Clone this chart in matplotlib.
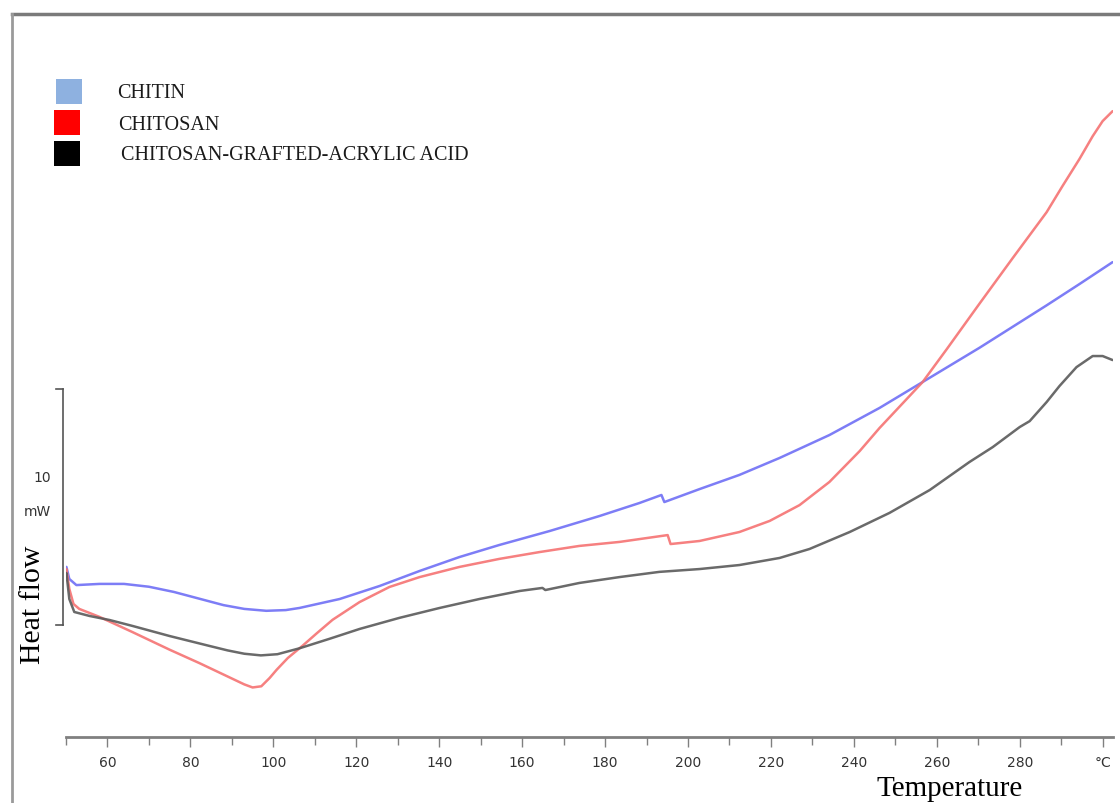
import numpy as np
import matplotlib.pyplot as plt
from matplotlib.lines import Line2D
from matplotlib.patches import Rectangle
from matplotlib import font_manager

# DSC traces: temperature (deg C) and heat flow (mW, arbitrary offset)
chitin_T = [49.9, 50.1, 50.8, 52.5, 58.1, 64.0, 70.0, 76.0, 82.0, 88.0,
            93.0, 98.3, 103.0, 106.3, 116.0, 125.6, 135.3, 144.9, 154.5, 166.6,
            178.7, 188.3, 193.6, 194.3, 202.8, 212.4, 222.1, 234.1, 246.2, 256.6,
            270.3, 286.5, 294.4, 302.4]
chitin_hf = [2.03, 2.46, 1.95, 1.69, 1.74, 1.74, 1.62, 1.40, 1.12, 0.84,
             0.68, 0.60, 0.63, 0.72, 1.10, 1.65, 2.29, 2.88, 3.39, 3.98,
             4.62, 5.17, 5.51, 5.21, 5.76, 6.36, 7.08, 8.05, 9.20, 10.30,
             11.75, 13.55, 14.45, 15.38]

chitosan_T = [49.9, 50.1, 50.8, 51.8, 53.2, 58.1, 66.0, 75.0, 82.2, 89.4,
              93.0, 95.0, 97.1, 99.1, 100.8, 103.5, 107.0, 110.5, 114.3, 120.8,
              128.0, 135.3, 144.9, 154.5, 164.2, 173.8, 183.5, 195.1, 195.8, 202.8,
              212.4, 219.7, 226.9, 234.1, 241.4, 246.2, 251.8, 256.6, 262.4, 270.3,
              278.3, 286.5, 290.3, 294.4, 297.6, 300.0, 302.4]
chitosan_hf = [2.08, 2.37, 1.53, 0.89, 0.68, 0.34, -0.30, -1.05, -1.62, -2.22,
               -2.52, -2.65, -2.60, -2.25, -1.90, -1.40, -0.89, -0.35, 0.22, 0.97,
               1.61, 2.03, 2.46, 2.80, 3.09, 3.35, 3.52, 3.81, 3.43, 3.56,
               3.94, 4.41, 5.08, 6.06, 7.37, 8.35, 9.40, 10.30, 11.69, 13.62,
               15.55, 17.50, 18.60, 19.75, 20.72, 21.36, 21.78]

grafted_T = [49.9, 50.1, 50.8, 52.0, 55.7, 60.5, 66.0, 75.0, 84.6, 89.0,
             93.0, 97.0, 101.0, 106.3, 113.5, 120.8, 130.4, 140.1, 149.7, 159.4,
             164.9, 165.6, 173.8, 183.5, 193.1, 202.8, 212.4, 222.1, 229.3, 239.0,
             248.6, 258.3, 267.9, 273.5, 280.0, 282.4, 286.5, 289.6, 293.7, 297.6,
             300.0, 302.4]
grafted_hf = [1.95, 2.20, 1.10, 0.55, 0.38, 0.21, -0.04, -0.47, -0.89, -1.08,
              -1.22, -1.29, -1.24, -0.99, -0.59, -0.17, 0.30, 0.72, 1.10, 1.44,
              1.57, 1.48, 1.78, 2.03, 2.25, 2.37, 2.54, 2.84, 3.22, 3.94,
              4.75, 5.72, 6.91, 7.54, 8.39, 8.64, 9.45, 10.13, 10.93, 11.40,
              11.40, 11.23]

series_names = ['CHITIN', 'CHITOSAN', 'CHITOSAN-GRAFTED-ACRYLIC ACID']
line_colors = ['#6f6ff5', '#f57272', '#5a5a5a']
legend_colors = ['#8eb1e0', '#ff0000', '#000000']

tick_values = list(range(60, 301, 20))
tick_labels = [str(t) for t in range(60, 281, 20)] + ['°C']

installed = {f.name for f in font_manager.fontManager.ttflist}
narrow = ['Liberation Sans Narrow'] if 'Liberation Sans Narrow' in installed else []
narrow = narrow + ['DejaVu Sans']
serif = ['Liberation Serif', 'DejaVu Serif']

W, H = 1120, 804
fig = plt.figure(figsize=(W / 100, H / 100), dpi=100)
fig.patch.set_facecolor('white')

# plot area: x from 66 px to 1113 px, y from 15 px (top) to 738 px (axis line)
ax = fig.add_axes([66 / W, (H - 738) / H, (1113 - 66) / W, (738 - 15) / H])
ax.set_xlim(50, 302.5)
ax.set_ylim(-4.75, 25.9)
ax.set_facecolor('none')

for T, hf, c in zip([chitin_T, chitosan_T, grafted_T],
                    [chitin_hf, chitosan_hf, grafted_hf], line_colors):
    ax.plot(T, hf, color=c, lw=1.8, alpha=0.9, solid_capstyle='round',
            solid_joinstyle='round')

for s in ['top', 'left', 'right']:
    ax.spines[s].set_visible(False)
ax.spines['bottom'].set_color('#808080')
ax.spines['bottom'].set_linewidth(2)
ax.set_yticks([])
ax.set_xticks(tick_values)
ax.set_xticklabels(tick_labels, family=narrow, fontsize=10, color='#333333')
ax.set_xticks(range(50, 301, 10), minor=True)
ax.tick_params(axis='x', which='major', length=7, width=1, color='#808080', pad=6)
ax.tick_params(axis='x', which='minor', length=6, width=1, color='#808080')

# 10 mW scale bar
ax.plot([49.2, 49.2], [0, 10], color='#555555', lw=1.2, clip_on=False)
ax.plot([47.6, 49.2], [10, 10], color='#555555', lw=1.2, clip_on=False)
ax.plot([47.6, 49.2], [0, 0], color='#555555', lw=1.2, clip_on=False)
ax.text(46.3, 6.27, '10', ha='right', va='center', family=narrow, fontsize=10,
        color='#333333')
ax.text(46.3, 4.83, 'mW', ha='right', va='center', family=narrow, fontsize=10,
        color='#333333')

# outer frame (top and left edges)
fig.add_artist(Line2D([12 / W, 1], [1 - 15 / H, 1 - 15 / H], color='#7a7a7a',
                      lw=2.5, transform=fig.transFigure))
fig.add_artist(Line2D([12 / W, 12 / W], [0, 1 - 15 / H], color='#9a9a9a',
                      lw=2, transform=fig.transFigure))

fig.text(33 / W, 1 - 605 / H, 'Heat flow', rotation=90, ha='center', va='center',
         family=serif, fontsize=21.5, color='black',
         bbox=dict(facecolor='white', edgecolor='none', pad=4))
fig.text(950 / W, 1 - 789 / H, 'Temperature', ha='center', va='center',
         family=serif, fontsize=21, color='black')

# legend swatches
sw_y = [80, 111, 142]
sw_x = [56, 54, 54]
txt_x = [117, 118, 121]
for name, c, y, x0, tx in zip(series_names, legend_colors, sw_y, sw_x, txt_x):
    fig.patches.append(Rectangle((x0 / W, 1 - (y + 25) / H), 26 / W, 25 / H,
                                 facecolor=c, edgecolor='none',
                                 transform=fig.transFigure))
    fig.text(tx / W, 1 - (y + 14) / H, name, ha='left', va='center',
             family=serif, fontsize=14.5, color='#1a1a1a')

fig.savefig('out.png', dpi=100, facecolor='white')
